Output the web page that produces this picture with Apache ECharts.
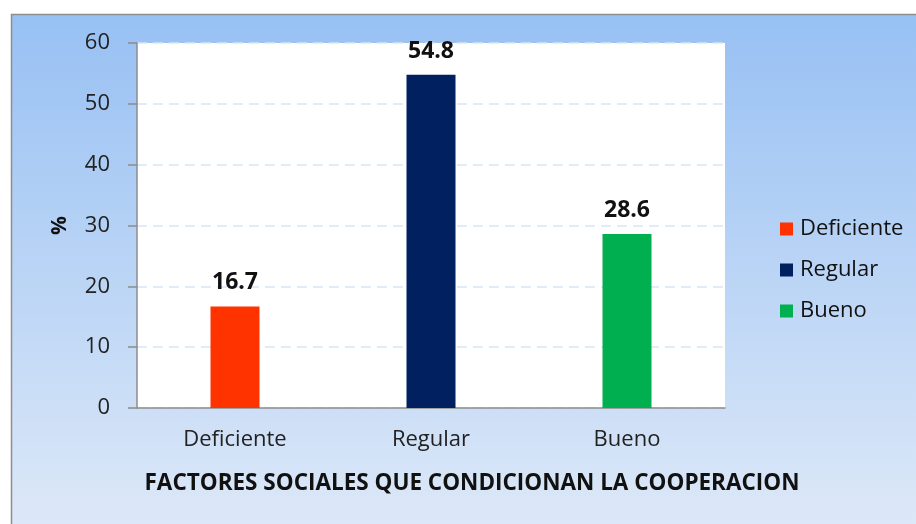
<!DOCTYPE html>
<html>
<head>
<meta charset="utf-8">
<script src="https://cdn.jsdelivr.net/npm/echarts@6/dist/echarts.min.js"></script>
<style>
html,body{margin:0;padding:0;background:#fff;}
#c{width:916px;height:524px;}
</style>
</head>
<body>
<div id="c"></div>
<script>
const categories = ["Deficiente", "Regular", "Bueno"];
const values = [16.7, 54.8, 28.6];
const colors = ["#FF3300", "#002060", "#00B050"];
const yTicks = [0, 10, 20, 30, 40, 50, 60];
const xAxisTitle = "FACTORES SOCIALES QUE CONDICIONAN LA COOPERACION";
const yAxisTitle = "%";

const FONT = "'Open Sans', 'Noto Sans', sans-serif";
const chart = echarts.init(document.getElementById('c'), null, {renderer: 'canvas'});

const series = categories.map((name, i) => ({
  name: name,
  type: 'bar',
  stack: 'one',
  barWidth: 49,
  data: categories.map((c, j) => j === i ? values[i] : '-'),
  itemStyle: {color: colors[i]},
  label: {
    show: true,
    position: 'top',
    distance: 12,
    color: '#111',
    fontFamily: FONT,
    fontWeight: 'bold',
    fontSize: 23,
    formatter: p => p.value.toFixed(1)
  }
}));

chart.setOption({
  animation: false,
  graphic: [{
    type: 'rect',
    z: -10,
    shape: {x: 11.5, y: 14.5, width: 920, height: 520},
    style: {
      fill: new echarts.graphic.LinearGradient(0, 0, 0, 1, [
        {offset: 0, color: '#97C0F3'},
        {offset: 1, color: '#DEE9F8'}
      ]),
      stroke: '#8E8E8E',
      lineWidth: 1.5
    }
  }],
  legend: {
    orient: 'vertical',
    left: 775,
    top: 213,
    itemWidth: 13,
    itemHeight: 13,
    itemGap: 19,
    icon: 'rect',
    textStyle: {fontFamily: FONT, fontSize: 22, color: '#111', padding: [0, 0, 0, 2]},
    data: categories
  },
  grid: {
    left: 137, right: 191, top: 43, bottom: 116,
    show: true, backgroundColor: '#FFFFFF', borderWidth: 0
  },
  xAxis: {
    type: 'category',
    data: categories,
    axisLine: {show: true, lineStyle: {color: '#8C8C8C', width: 1.5}},
    axisTick: {show: false},
    axisLabel: {fontFamily: FONT, fontSize: 22, color: '#222', margin: 21},
    name: xAxisTitle,
    nameLocation: 'middle',
    nameGap: 64,
    nameTextStyle: {fontFamily: FONT, fontSize: 22.5, fontWeight: 'bold', color: '#111',
      padding: [0, 0, 0, 82]}
  },
  yAxis: {
    type: 'value',
    min: 0, max: 60, interval: 10,
    axisLine: {show: true, lineStyle: {color: '#8C8C8C', width: 1.5}},
    axisTick: {show: true, length: 9, lineStyle: {color: '#8C8C8C', width: 1.5}},
    axisLabel: {fontFamily: FONT, fontSize: 22, color: '#222', margin: 27,
      formatter: v => yTicks.includes(v) ? String(v) : ''},
    splitLine: {show: true, lineStyle: {color: '#D6E6F8', type: [10, 6], width: 1.5}},
    name: yAxisTitle,
    nameLocation: 'middle',
    nameGap: 66,
    nameRotate: 90,
    nameTextStyle: {fontFamily: FONT, fontSize: 21, fontWeight: 'bold', color: '#111'}
  },
  series: series
});
</script>
</body>
</html>
